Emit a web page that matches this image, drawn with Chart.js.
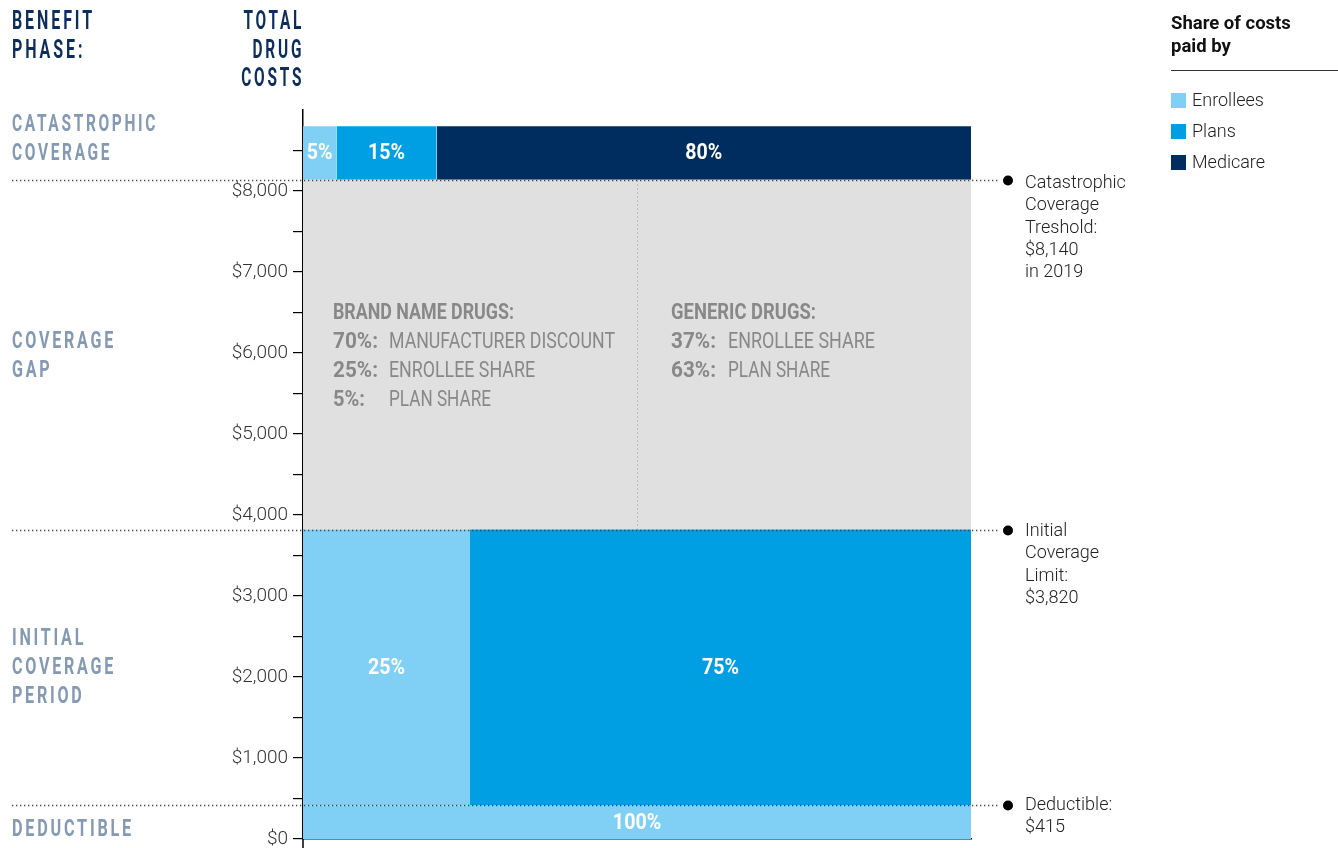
<!DOCTYPE html>
<html>
<head>
<meta charset="utf-8">
<script src="https://cdn.jsdelivr.net/npm/chart.js@4.4.1/dist/chart.umd.min.js"></script>
<style>
  body { margin: 0; background: #fff; }
  #wrap { position: relative; width: 1338px; height: 848px; overflow: hidden; }
  canvas { position: absolute; left: 0; top: 0; }
  .fit { position: absolute; white-space: nowrap; font-family: Roboto, sans-serif; transform-origin: left top; }
  .head { color: #0d2e5c; font-weight: bold; font-size: 25px; letter-spacing: 4.5px; line-height: 28.5px; }
  .phase { left: 12px; color: #8499b3; font-weight: bold; font-size: 23.5px; letter-spacing: 4px; line-height: 29px; }
  .gb { color: #888; font-weight: bold; font-size: 22px; line-height: 29px; }
  .gr { color: #888; font-weight: normal; font-size: 22px; line-height: 29px; }
  .note { position: absolute; left: 1025px; font-family: Roboto, sans-serif; font-weight: 300; font-size: 18px; line-height: 22.3px; color: #222; }
  #legend { position: absolute; left: 1171px; top: 12px; width: 167px; font-family: Roboto, sans-serif; }
  #legend .title { font-weight: bold; font-size: 18.5px; line-height: 22.6px; color: #111; padding-bottom: 13px; border-bottom: 1.5px solid #333; }
  #legend .item { font-size: 18px; font-weight: 300; color: #222; height: 31px; line-height: 31px; }
  #legend .sw { display: inline-block; width: 15px; height: 15px; vertical-align: -2px; margin-right: 6px; }
</style>
</head>
<body>
<div id="wrap">
  <canvas id="chart" width="1338" height="848"></canvas>

  <div class="fit head" data-w="83" style="left:12px; top:7px;">BENEFIT<br>PHASE:</div>
  <div class="fit head" data-w="63" style="right:1034px; top:7px; text-align:right; transform-origin:right top;">TOTAL<br>DRUG<br>COSTS</div>

  <div class="fit phase" data-w="146" style="top:109px;">CATASTROPHIC<br>COVERAGE</div>
  <div class="fit phase" data-w="104" style="top:326px;">COVERAGE<br>GAP</div>
  <div class="fit phase" data-w="104" style="top:623px;">INITIAL<br>COVERAGE<br>PERIOD</div>
  <div class="fit phase" data-w="122" style="top:814px;">DEDUCTIBLE</div>

  <div class="fit gb" data-w="181" style="left:333px; top:297px;">BRAND NAME DRUGS:</div>
  <div class="fit gb" data-w="45" style="left:333px; top:326px;">70%:</div>
  <div class="fit gr" data-w="226" style="left:389px; top:326px;">MANUFACTURER DISCOUNT</div>
  <div class="fit gb" data-w="45" style="left:333px; top:355px;">25%:</div>
  <div class="fit gr" data-w="146" style="left:389px; top:355px;">ENROLLEE SHARE</div>
  <div class="fit gb" data-w="32" style="left:333px; top:384px;">5%:</div>
  <div class="fit gr" data-w="102" style="left:389px; top:384px;">PLAN SHARE</div>

  <div class="fit gb" data-w="145" style="left:671px; top:297px;">GENERIC DRUGS:</div>
  <div class="fit gb" data-w="45" style="left:671px; top:326px;">37%:</div>
  <div class="fit gr" data-w="147" style="left:728px; top:326px;">ENROLLEE SHARE</div>
  <div class="fit gb" data-w="45" style="left:671px; top:355px;">63%:</div>
  <div class="fit gr" data-w="102" style="left:728px; top:355px;">PLAN SHARE</div>

  <div class="note" style="top:171px;">Catastrophic<br>Coverage<br>Treshold:<br>$8,140<br>in 2019</div>
  <div class="note" style="top:519px;">Initial<br>Coverage<br>Limit:<br>$3,820</div>
  <div class="note" style="top:793px;">Deductible:<br>$415</div>

  <div id="legend"><div class="title">Share of costs<br>paid by</div><div id="items" style="padding-top:13px;"></div></div>
</div>

<script>
// benefit phases, bottom to top, and the cost at which each one starts / ends
const phases = ['Deductible', 'Initial coverage period', 'Coverage gap', 'Catastrophic coverage'];
const phaseStart = [0, 415, 3820, 8140];
const phaseEnd = [415, 3820, 8140, 8800];

// share of costs (%) paid in each phase; null = coverage gap (shown grey)
const series = ['Enrollees', 'Plans', 'Medicare'];
const enrolleeShare = [100, 25, null, 5];
const planShare = [0, 75, null, 15];
const medicareShare = [0, 0, null, 80];

const thresholds = [8140, 3820, 415];
const yTicks = [0, 1000, 2000, 3000, 4000, 5000, 6000, 7000, 8000];

const colors = ['#80cff4', '#009fe3', '#002d5f'];
const gapColor = '#e0e0e0';

const shares = [enrolleeShare, planShare, medicareShare];

// squeeze the condensed headings to the width they have in the original
function fitText() {
    document.querySelectorAll('.fit').forEach(el => {
        const w = +el.dataset.w;
        const nat = el.getBoundingClientRect().width;
        if (nat > 0) el.style.transform = 'scaleX(' + (w / nat) + ')';
    });
}
fitText();

// legend
const items = document.getElementById('items');
series.forEach((s, i) => {
    const d = document.createElement('div');
    d.className = 'item';
    d.innerHTML = '<span class="sw" style="background:' + colors[i] + '"></span>' + s;
    items.appendChild(d);
});

// one filled line dataset per rectangle
const datasets = [];
const labels = [];
phases.forEach((p, i) => {
    if (enrolleeShare[i] === null) {
        datasets.push({
            label: p,
            data: [{ x: 0, y: phaseEnd[i] }, { x: 100, y: phaseEnd[i] }],
            fill: { value: phaseStart[i] },
            backgroundColor: gapColor,
            borderWidth: 0,
            pointRadius: 0
        });
        return;
    }
    let left = 0;
    shares.forEach((arr, s) => {
        const v = arr[i];
        if (!v) return;
        datasets.push({
            label: series[s] + ' - ' + p,
            data: [{ x: left, y: phaseEnd[i] }, { x: left + v, y: phaseEnd[i] }],
            fill: { value: phaseStart[i] },
            backgroundColor: colors[s],
            borderWidth: 0,
            pointRadius: 0
        });
        labels.push({ x: left + v / 2, y: (phaseStart[i] + phaseEnd[i]) / 2, text: v + '%' });
        left += v;
    });
});

const overlay = {
    id: 'overlay',
    afterDatasetsDraw(chart) {
        const ctx = chart.ctx;
        const x = chart.scales.x, y = chart.scales.y;
        ctx.save();
        // split between brand name and generic drugs
        const mx = Math.round(x.getPixelForValue(50)) + 0.5;
        ctx.strokeStyle = '#999';
        ctx.lineWidth = 1;
        ctx.setLineDash([1, 3]);
        ctx.beginPath();
        ctx.moveTo(mx, y.getPixelForValue(phaseStart[2]));
        ctx.lineTo(mx, y.getPixelForValue(phaseEnd[2]));
        ctx.stroke();
        ctx.setLineDash([]);

        // white share labels, condensed like the original
        ctx.fillStyle = '#fff';
        ctx.font = 'bold 22px Roboto, sans-serif';
        ctx.textAlign = 'center';
        ctx.textBaseline = 'middle';
        const squeeze = 37 / ctx.measureText('15%').width;
        labels.forEach(l => {
            ctx.save();
            ctx.translate(x.getPixelForValue(l.x), y.getPixelForValue(l.y) + 1);
            ctx.scale(squeeze, 1);
            ctx.fillText(l.text, 0, 0);
            ctx.restore();
        });
        ctx.restore();
    },
    afterDraw(chart) {
        const ctx = chart.ctx;
        const y = chart.scales.y;
        const area = chart.chartArea;
        ctx.save();
        // axis line runs on a little below $0
        ctx.strokeStyle = '#000';
        ctx.lineWidth = 1.5;
        ctx.beginPath();
        ctx.moveTo(area.left, area.bottom);
        ctx.lineTo(area.left, chart.height);
        ctx.stroke();

        thresholds.forEach(t => {
            const py = Math.round(y.getPixelForValue(t)) + 0.5;
            ctx.strokeStyle = '#444';
            ctx.lineWidth = 1.3;
            ctx.setLineDash([1.3, 2.7]);
            ctx.beginPath();
            ctx.moveTo(12, py);
            ctx.lineTo(1000, py);
            ctx.stroke();
            ctx.setLineDash([]);
            ctx.fillStyle = '#000';
            ctx.beginPath();
            ctx.arc(1008, py, 5, 0, Math.PI * 2);
            ctx.fill();
        });
        ctx.restore();
    }
};

new Chart(document.getElementById('chart').getContext('2d'), {
    type: 'line',
    data: { datasets: datasets },
    options: {
        responsive: false,
        animation: false,
        layout: { padding: { left: 203, right: 367, top: 110, bottom: 9 } },
        plugins: { legend: { display: false }, tooltip: { enabled: false } },
        scales: {
            x: {
                type: 'linear',
                min: 0,
                max: 100,
                ticks: { display: false },
                grid: { display: false },
                border: { color: '#000', width: 1.5 },
                afterFit(scale) {
                    scale.height = 0;
                    scale.paddingLeft = 0;
                    scale.paddingRight = 0;
                }
            },
            y: {
                min: 0,
                max: 9000,
                ticks: {
                    stepSize: 500,
                    padding: 5,
                    color: '#333',
                    font: { family: 'Roboto', size: 19, weight: 300 },
                    callback: v => yTicks.includes(v) ? '$' + v.toLocaleString('en-US') : ''
                },
                grid: {
                    drawOnChartArea: false,
                    tickLength: 10,
                    color: c => (c.tick && c.tick.value === 9000) ? 'rgba(0,0,0,0)' : '#000',
                    lineWidth: 1.2
                },
                border: { color: '#000', width: 1.5 },
                afterFit(scale) {
                    scale.width = 100;
                    scale.paddingTop = 0;
                    scale.paddingBottom = 0;
                }
            }
        }
    },
    plugins: [overlay]
});
</script>
</body>
</html>
